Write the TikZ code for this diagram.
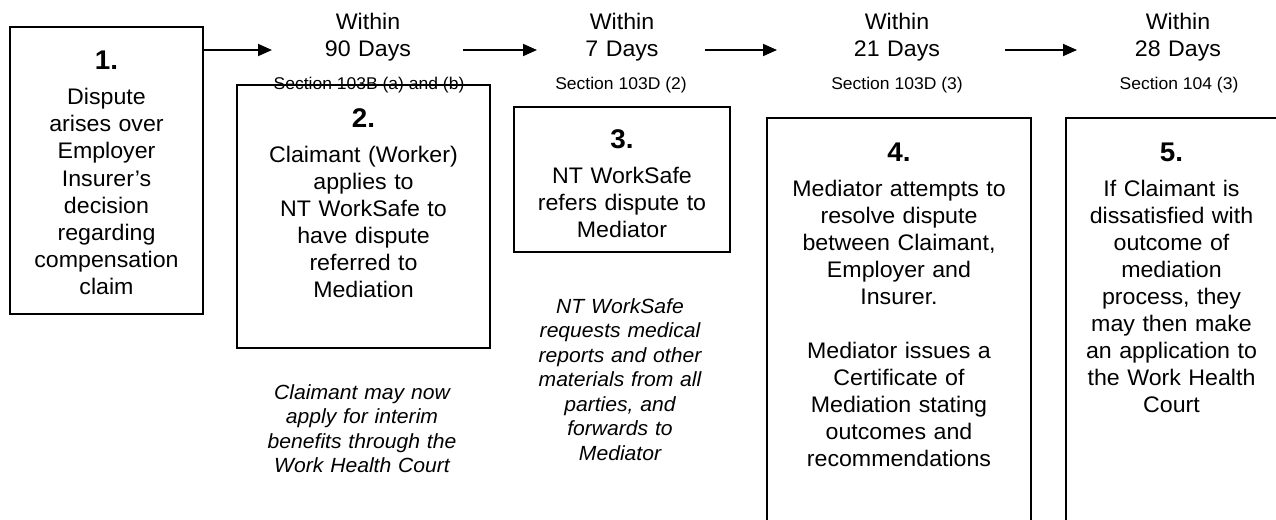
\documentclass[tikz,border=0pt]{standalone}
\usepackage{fontspec}
\setmainfont{Liberation Sans}[FakeStretch=1.03]
\usepackage{tikz}
\usetikzlibrary{arrows.meta, positioning}

\newcommand{\bodyfont}{\fontsize{22.5}{27}\selectfont}
\newcommand{\numfont}{\fontsize{27}{32}\selectfont\bfseries}
\newcommand{\secfont}{\fontsize{17}{20}\selectfont}
\newcommand{\notefont}{\fontsize{20.5}{24.5}\selectfont\itshape}
\newcommand{\stagenum}[1]{{\numfont #1}\par\vspace{8pt}}

\tikzset{
  stagebox/.style={draw, line width=2pt, anchor=north west, inner sep=0pt},
  stagetext/.style={anchor=base, align=center, inner sep=0pt, font=\bodyfont},
  heading/.style={anchor=base, align=center, inner sep=0pt, text width=150pt, font=\bodyfont},
  section/.style={anchor=base, inner sep=0pt, font=\secfont},
  note/.style={anchor=base, align=center, inner sep=0pt, font=\notefont},
  flow/.style={line width=1.8pt, -{Triangle[length=14pt,width=12pt]}}
}

\begin{document}
\begin{tikzpicture}[x=1pt, y=-1pt]
    \clip (0,0) rectangle (1276,519);

    % Time limits
    \node[heading] (h1) at (368,30) {Within\\90 Days};
    \node[heading] (h2) at (622,30) {Within\\7 Days};
    \node[heading] (h3) at (897,30) {Within\\21 Days};
    \node[heading] (h4) at (1178,30) {Within\\28 Days};

    % Sections of the Act
    \node[section] (c1) at (369,89) {Section 103B (a) and (b)};
    \node[section] (c2) at (621,89) {Section 103D (2)};
    \node[section] (c3) at (897,89) {Section 103D (3)};
    \node[section] (c4) at (1179,89) {Section 104 (3)};

    % Stage boxes
    \node[stagebox, minimum width=193pt, minimum height=287pt] (s1) at (9,26) {};
    \node[stagebox, minimum width=253pt, minimum height=263pt] (s2) at (236,84) {};
    \node[stagebox, minimum width=216pt, minimum height=145pt] (s3) at (513,106) {};
    \node[stagebox, minimum width=264pt, minimum height=440pt] (s4) at (766,117) {};
    \node[stagebox, minimum width=240pt, minimum height=440pt] (s5) at (1065,117) {};

    % Stage texts
    \node[stagetext, text width=193pt] (t1) at ([yshift=-44pt]s1.north)
        {\stagenum{1.}Dispute\\arises over\\Employer\\Insurer’s\\decision\\regarding\\compensation\\claim};
    \node[stagetext, text width=253pt] (t2) at ([yshift=-43pt]s2.north)
        {\stagenum{2.}Claimant (Worker)\\applies to\\NT WorkSafe to\\have dispute\\referred to\\Mediation};
    \node[stagetext, text width=216pt] (t3) at ([yshift=-42pt]s3.north)
        {\stagenum{3.}NT WorkSafe\\refers dispute to\\Mediator};
    \node[stagetext, text width=264pt] (t4) at ([yshift=-44pt]s4.north)
        {\stagenum{4.}Mediator attempts to\\resolve dispute\\between Claimant,\\Employer and\\Insurer.\par\vspace{27pt}%
         Mediator issues a\\Certificate of\\Mediation stating\\outcomes and\\recommendations};
    \node[stagetext, text width=211pt] (t5) at ([xshift=-14.5pt, yshift=-44pt]s5.north)
        {\stagenum{5.}If Claimant is\\dissatisfied with\\outcome of\\mediation\\process, they\\may then make\\an application to\\the Work Health\\Court};

    % Notes
    \node[note, text width=240pt] (n2) at (362,399)
        {Claimant may now\\apply for interim\\benefits through the\\Work Health Court};
    \node[note, text width=220pt] (n3) at (620,313)
        {NT WorkSafe\\requests medical\\reports and other\\materials from all\\parties, and\\forwards to\\Mediator};

    % Arrows
    \coordinate (e1) at (272,50);
    \coordinate (a2) at (463,50);
    \coordinate (e2) at (537,50);
    \coordinate (a3) at (705,50);
    \coordinate (e3) at (777,50);
    \coordinate (a4) at (1005,50);
    \coordinate (e4) at (1077,50);
    \draw[flow] ([yshift=-24pt]s1.north east) -- (e1);
    \draw[flow] (a2) -- (e2);
    \draw[flow] (a3) -- (e3);
    \draw[flow] (a4) -- (e4);
\end{tikzpicture}
\end{document}
